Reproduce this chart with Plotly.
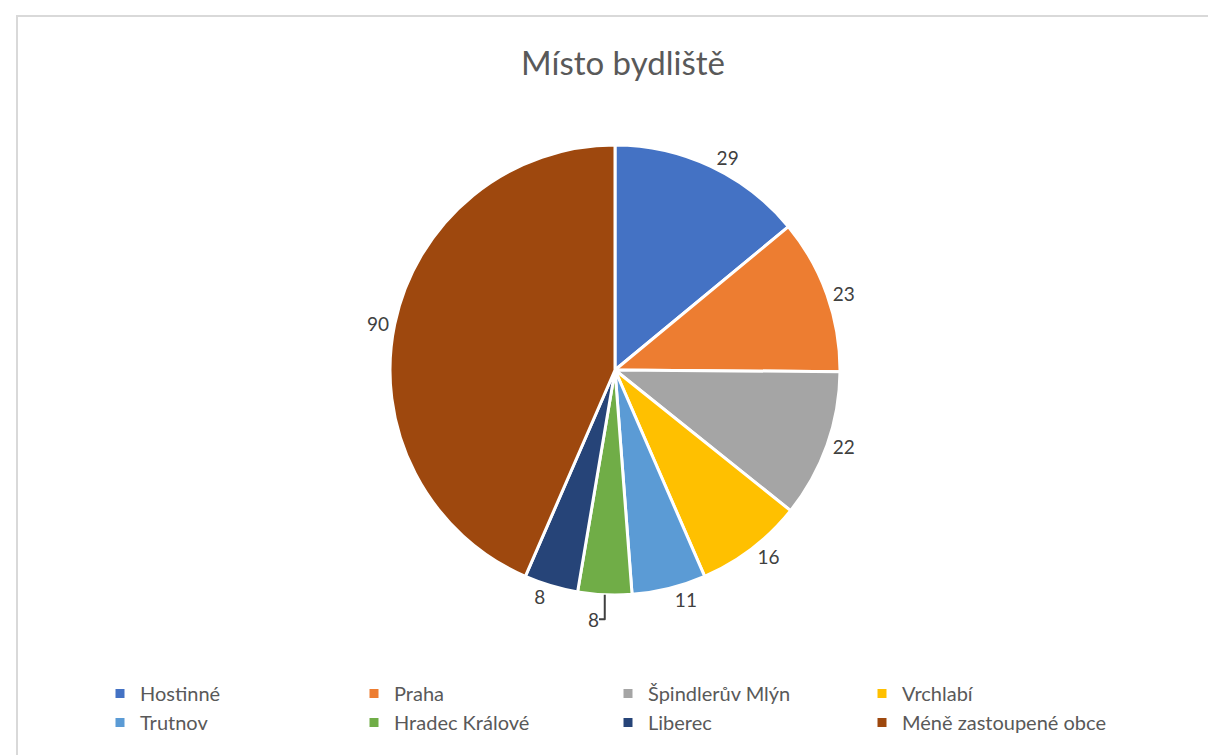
import plotly.graph_objects as go

# --------------------------
# Data
# --------------------------

labels = [
    "Hostinné",
    "Praha",
    "Špindlerův Mlýn",
    "Vrchlabí",
    "Trutnov",
    "Hradec Králové",
    "Liberec",
    "Méně zastoupené obce",
]
values = [29, 23, 22, 16, 11, 8, 8, 90]
colors = [
    "#4472C4", "#ED7D31", "#A5A5A5", "#FFC000",
    "#5B9BD5", "#70AD47", "#264478", "#9E480E",
]

W, H = 1216, 755

fig = go.Figure()

# --------------------------
# Pie
# --------------------------

fig.add_trace(
    go.Pie(
        labels=labels,
        values=values,
        sort=False,
        direction="clockwise",
        rotation=0,
        marker=dict(colors=colors, line=dict(color="white", width=3)),
        textinfo="value",
        textposition="outside",
        textfont=dict(size=19, color="#404040"),
        domain=dict(x=[382 / W, 832 / W], y=[1 - 587 / H, 1 - 137 / H]),
        hovertemplate="%{label}: %{value} (%{percent})<extra></extra>",
    )
)

# --------------------------
# Layout
# --------------------------

fig.update_layout(
    width=W,
    height=H,
    margin=dict(l=0, r=0, t=0, b=0),
    paper_bgcolor="white",
    font=dict(family="Lato, 'Open Sans', sans-serif", color="#595959"),
    title=dict(
        text="Místo bydliště",
        x=615 / W,
        xanchor="center",
        y=1 - 55 / H,
        yanchor="middle",
        font=dict(size=33, color="#595959"),
    ),
    legend=dict(
        orientation="h",
        x=92 / W,
        xanchor="left",
        y=1 - 666 / H,
        yanchor="top",
        entrywidth=209,
        entrywidthmode="pixels",
        font=dict(size=20, color="#595959"),
        bgcolor="rgba(0,0,0,0)",
    ),
    shapes=[
        dict(
            type="rect",
            xref="paper",
            yref="paper",
            x0=9 / W,
            x1=1.05,
            y0=-0.05,
            y1=1 - 8 / H,
            line=dict(color="#D9D9D9", width=2),
            fillcolor="rgba(0,0,0,0)",
            layer="below",
        )
    ],
)

fig.write_html("out.html")
